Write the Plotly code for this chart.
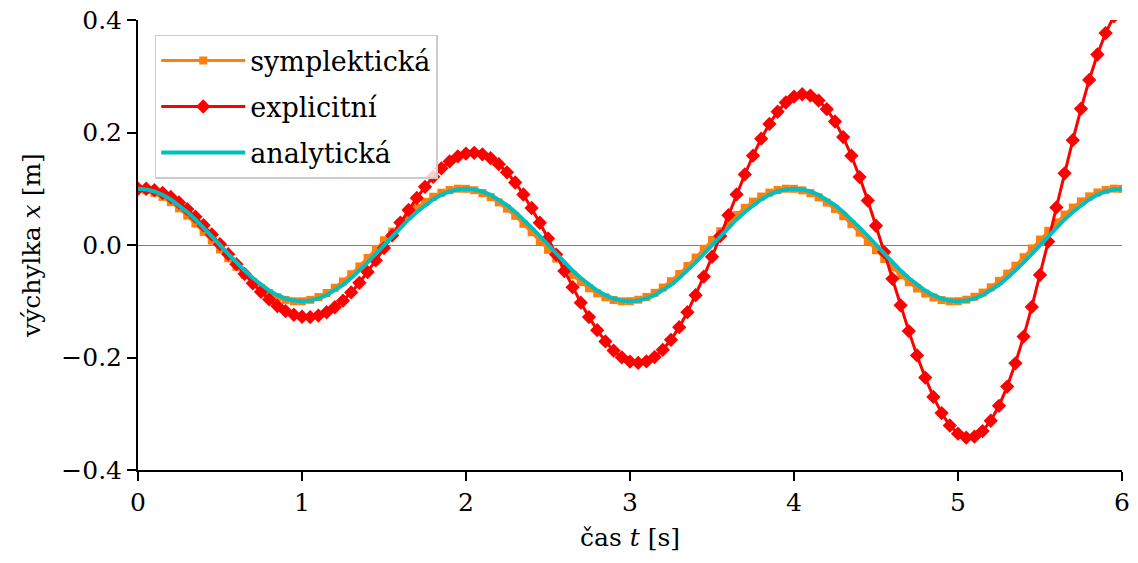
import plotly.graph_objects as go

# time samples [s]
t = [0.0, 0.05, 0.1, 0.15, 0.2, 0.25, 0.3, 0.35, 0.4, 0.45, 0.5, 0.55, 0.6, 0.65, 0.7, 0.75, 0.8, 0.85, 0.9, 0.95,
     1.0, 1.05, 1.1, 1.15, 1.2, 1.25, 1.3, 1.35, 1.4, 1.45, 1.5, 1.55, 1.6, 1.65, 1.7, 1.75, 1.8, 1.85, 1.9, 1.95,
     2.0, 2.05, 2.1, 2.15, 2.2, 2.25, 2.3, 2.35, 2.4, 2.45, 2.5, 2.55, 2.6, 2.65, 2.7, 2.75, 2.8, 2.85, 2.9, 2.95,
     3.0, 3.05, 3.1, 3.15, 3.2, 3.25, 3.3, 3.35, 3.4, 3.45, 3.5, 3.55, 3.6, 3.65, 3.7, 3.75, 3.8, 3.85, 3.9, 3.95,
     4.0, 4.05, 4.1, 4.15, 4.2, 4.25, 4.3, 4.35, 4.4, 4.45, 4.5, 4.55, 4.6, 4.65, 4.7, 4.75, 4.8, 4.85, 4.9, 4.95,
     5.0, 5.05, 5.1, 5.15, 5.2, 5.25, 5.3, 5.35, 5.4, 5.45, 5.5, 5.55, 5.6, 5.65, 5.7, 5.75, 5.8, 5.85, 5.9, 5.95,
     6.0]

# symplectic Euler displacement [m]
x_symplekticka = [
    0.1000, 0.0975, 0.0927, 0.0855, 0.0762, 0.0651, 0.0523, 0.0383, 0.0233, 0.0077,
    -0.0080, -0.0236, -0.0386, -0.0526, -0.0653, -0.0764, -0.0857, -0.0928, -0.0976, -0.1000,
    -0.1000, -0.0975, -0.0925, -0.0853, -0.0760, -0.0648, -0.0520, -0.0380, -0.0230, -0.0074,
    0.0084, 0.0239, 0.0389, 0.0529, 0.0656, 0.0767, 0.0858, 0.0929, 0.0977, 0.1001,
    0.0999, 0.0974, 0.0924, 0.0852, 0.0758, 0.0646, 0.0518, 0.0377, 0.0227, 0.0071,
    -0.0087, -0.0242, -0.0392, -0.0532, -0.0658, -0.0769, -0.0860, -0.0930, -0.0978, -0.1001,
    -0.0999, -0.0973, -0.0923, -0.0850, -0.0756, -0.0643, -0.0515, -0.0374, -0.0223, -0.0067,
    0.0090, 0.0245, 0.0395, 0.0534, 0.0661, 0.0771, 0.0862, 0.0932, 0.0978, 0.1001,
    0.0999, 0.0972, 0.0922, 0.0848, 0.0754, 0.0641, 0.0512, 0.0371, 0.0220, 0.0064,
    -0.0093, -0.0249, -0.0398, -0.0537, -0.0663, -0.0773, -0.0863, -0.0933, -0.0979, -0.1001,
    -0.0999, -0.0972, -0.0920, -0.0846, -0.0752, -0.0638, -0.0509, -0.0368, -0.0217, -0.0061,
    0.0097, 0.0252, 0.0401, 0.0540, 0.0666, 0.0775, 0.0865, 0.0934, 0.0980, 0.1002,
    0.0998]

# explicit Euler displacement [m]
x_explicitni = [
    0.1000, 0.1000, 0.0975, 0.0926, 0.0853, 0.0756, 0.0639, 0.0503, 0.0351, 0.0187,
    0.0014, -0.0163, -0.0341, -0.0515, -0.0680, -0.0833, -0.0968, -0.1084, -0.1175, -0.1240,
    -0.1276, -0.1281, -0.1254, -0.1196, -0.1107, -0.0989, -0.0843, -0.0673, -0.0482, -0.0275,
    -0.0055, 0.0171, 0.0399, 0.0622, 0.0836, 0.1034, 0.1212, 0.1364, 0.1486, 0.1574,
    0.1626, 0.1639, 0.1612, 0.1544, 0.1437, 0.1292, 0.1111, 0.0898, 0.0658, 0.0396,
    0.0117, -0.0171, -0.0463, -0.0750, -0.1025, -0.1282, -0.1514, -0.1714, -0.1877, -0.1997,
    -0.2072, -0.2096, -0.2070, -0.1992, -0.1863, -0.1685, -0.1461, -0.1195, -0.0893, -0.0562,
    -0.0209, 0.0158, 0.0531, 0.0899, 0.1254, 0.1588, 0.1890, 0.2153, 0.2369, 0.2533,
    0.2637, 0.2680, 0.2657, 0.2568, 0.2414, 0.2196, 0.1919, 0.1587, 0.1208, 0.0790,
    0.0342, -0.0125, -0.0601, -0.1073, -0.1531, -0.1963, -0.2356, -0.2701, -0.2988, -0.3209,
    -0.3355, -0.3423, -0.3408, -0.3308, -0.3124, -0.2859, -0.2516, -0.2103, -0.1628, -0.1101,
    -0.0533, 0.0061, 0.0668, 0.1275, 0.1864, 0.2422, 0.2934, 0.3387, 0.3767, 0.4063,
    0.4266]

# analytic solution [m]
x_analyticka = [
    0.1000, 0.0988, 0.0951, 0.0891, 0.0809, 0.0707, 0.0588, 0.0454, 0.0309, 0.0156,
    0.0000, -0.0156, -0.0309, -0.0454, -0.0588, -0.0707, -0.0809, -0.0891, -0.0951, -0.0988,
    -0.1000, -0.0988, -0.0951, -0.0891, -0.0809, -0.0707, -0.0588, -0.0454, -0.0309, -0.0156,
    0.0000, 0.0156, 0.0309, 0.0454, 0.0588, 0.0707, 0.0809, 0.0891, 0.0951, 0.0988,
    0.1000, 0.0988, 0.0951, 0.0891, 0.0809, 0.0707, 0.0588, 0.0454, 0.0309, 0.0156,
    0.0000, -0.0156, -0.0309, -0.0454, -0.0588, -0.0707, -0.0809, -0.0891, -0.0951, -0.0988,
    -0.1000, -0.0988, -0.0951, -0.0891, -0.0809, -0.0707, -0.0588, -0.0454, -0.0309, -0.0156,
    0.0000, 0.0156, 0.0309, 0.0454, 0.0588, 0.0707, 0.0809, 0.0891, 0.0951, 0.0988,
    0.1000, 0.0988, 0.0951, 0.0891, 0.0809, 0.0707, 0.0588, 0.0454, 0.0309, 0.0156,
    0.0000, -0.0156, -0.0309, -0.0454, -0.0588, -0.0707, -0.0809, -0.0891, -0.0951, -0.0988,
    -0.1000, -0.0988, -0.0951, -0.0891, -0.0809, -0.0707, -0.0588, -0.0454, -0.0309, -0.0156,
    0.0000, 0.0156, 0.0309, 0.0454, 0.0588, 0.0707, 0.0809, 0.0891, 0.0951, 0.0988,
    0.1000]

x_ticks = [0, 1, 2, 3, 4, 5, 6]
y_ticks = [-0.4, -0.2, 0.0, 0.2, 0.4]
y_ticktext = ["\u22120.4", "\u22120.2", "0.0", "0.2", "0.4"]

FONT = "DejaVu Serif"

fig = go.Figure()
fig.add_trace(go.Scatter(
    x=t, y=x_symplekticka, mode="lines+markers", name="symplektická",
    line=dict(color="#ff7f0e", width=3),
    marker=dict(symbol="square", size=8, color="#ff7f0e", line=dict(width=0)),
    legendgroup="a"))
fig.add_trace(go.Scatter(
    x=t, y=x_explicitni, mode="lines+markers", name="explicitní",
    line=dict(color="#ff0000", width=3),
    marker=dict(symbol="diamond", size=11, color="#ff0000", line=dict(width=0)),
    legendgroup="b"))
fig.add_trace(go.Scatter(
    x=t, y=x_analyticka, mode="lines", name="analytická",
    line=dict(color="#00bfbf", width=4),
    legendgroup="c"))

# the page body has an 8 px margin: the figure starts at (8, 8) in the window
fig.update_layout(
    width=1130, height=555,
    margin=dict(l=130, r=16, t=12, b=93),
    plot_bgcolor="white", paper_bgcolor="white",
    font=dict(family=FONT, size=25, color="black"),
    showlegend=True,
    legend=dict(
        x=0.017, y=0.967, xanchor="left", yanchor="top",
        bgcolor="rgba(255,255,255,0.8)", bordercolor="#cccccc", borderwidth=1.5,
        font=dict(family=FONT, size=27, color="black"),
        tracegroupgap=8, itemwidth=84,
    ),
    xaxis=dict(
        range=[0, 6], tickvals=x_ticks, ticktext=[str(v) for v in x_ticks],
        showline=True, linecolor="black", linewidth=2,
        ticks="outside", ticklen=9, tickwidth=2, tickcolor="black",
        showgrid=False, zeroline=False, automargin=False,
        ticklabeloverflow="allow",
        tickfont=dict(family=FONT, size=25, color="black"),
        title=dict(text="čas <i>t</i> [s]", font=dict(family=FONT, size=25, color="black"), standoff=12),
    ),
    yaxis=dict(
        range=[-0.4, 0.4], tickvals=y_ticks, ticktext=y_ticktext,
        showline=True, linecolor="black", linewidth=2,
        ticks="outside", ticklen=9, tickwidth=2, tickcolor="black",
        showgrid=False, zeroline=True, zerolinecolor="#808080", zerolinewidth=1.3,
        automargin=False, ticklabeloverflow="allow",
        tickfont=dict(family=FONT, size=25, color="black"),
        title=dict(text="výchylka <i>x</i> [m]", font=dict(family=FONT, size=25, color="black"), standoff=14),
    ),
)

fig.write_html("out.html")
